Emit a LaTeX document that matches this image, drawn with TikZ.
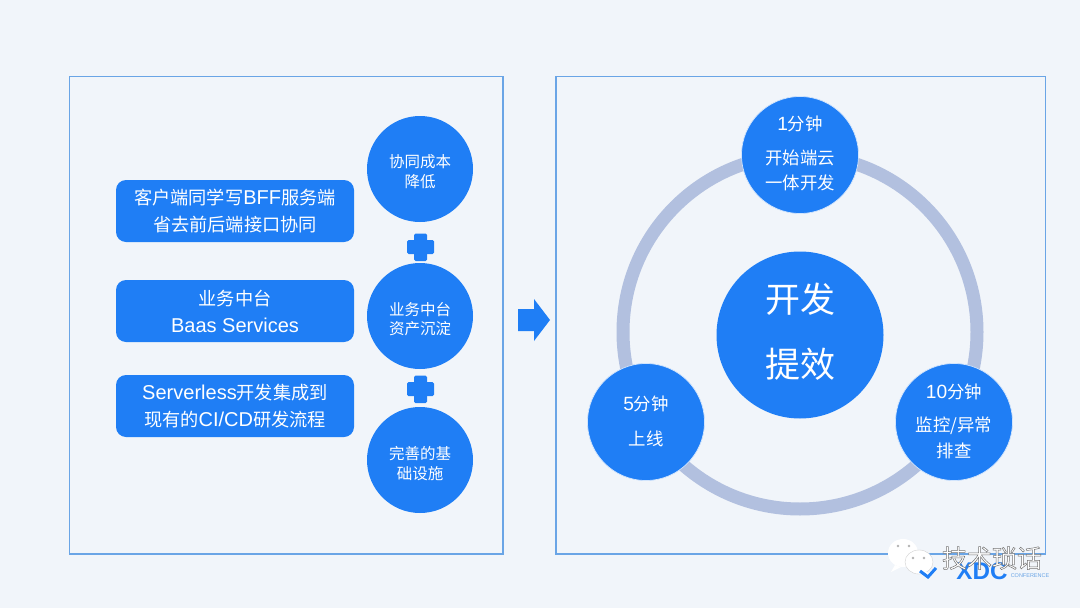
\documentclass[tikz,border=0pt]{standalone}
\usepackage{fontspec}
\setmainfont{Noto Sans CJK SC}
\newfontfamily\lat[Scale=1.1]{Liberation Sans}
\usetikzlibrary{calc}
\definecolor{bgc}{HTML}{F1F5FA}
\definecolor{blu}{HTML}{1F7EF5}
\definecolor{fr}{HTML}{6AA5E6}
\definecolor{rng}{HTML}{B2C0DF}
\tikzset{x=1pt,y=-1pt,
 panel/.style={draw=fr,line width=1.1pt,fill=none},
 circ/.style={circle,fill=blu,minimum size=#1,inner sep=0pt},
 halo/.style={draw=white!80!blu,line width=.7pt},
 ctext/.style={text=white,inner sep=0pt,font=\fontsize{15.5}{20}\selectfont},
 rtext/.style={text=white,inner sep=0pt,font=\fontsize{17.4}{20}\selectfont},
 mtext/.style={text=white,inner sep=0pt,font=\fontsize{35}{40}\selectfont},
 pillbox/.style={rounded corners=10pt,fill=blu,text=white,minimum width=238,minimum height=62,inner sep=0pt,align=center,font=\fontsize{18.2}{27}\selectfont},
 plus/.style={blu,rounded corners=1.5pt}}
\begin{document}
\begin{tikzpicture}
\fill[bgc] (0,0) rectangle (1080,608);
\useasboundingbox (0,0) rectangle (1080,608);
\draw[panel] (69.5,76.5) rectangle (503,554);
\draw[panel] (556,76.5) rectangle (1045.5,554);
\node[pillbox] (p1) at (235,211) {客户端同学写{\lat BFF}服务端\\省去前后端接口协同};
\node[pillbox] (p2) at (235,311) {业务中台\\{\lat Baas Services}};
\node[pillbox] (p3) at (235,406) {{\lat Serverless}开发集成到\\现有的{\lat CI/CD}研发流程};
\node[circ=106] (c1) at (420,169) {};
\node[circ=106] (c2) at (420,316) {};
\node[circ=106] (c3) at (420,460) {};
\node[ctext] (c1a) at (420,162) {协同成本};
\node[ctext] (c1b) at (420,182) {降低};
\node[ctext] (c2a) at (420,310) {业务中台};
\node[ctext] (c2b) at (420,329) {资产沉淀};
\node[ctext] (c3a) at (420,454) {完善的基};
\node[ctext] (c3b) at (420,474) {础设施};
\fill[plus] (407,240) rectangle (434,254);
\fill[plus] (414,233.5) rectangle (427,261);
\fill[plus] (407,382) rectangle (434,396);
\fill[plus] (414,375.5) rectangle (427,403);
\fill[blu] (518,309) -- (534,309) -- (534,299) -- (550,320) -- (534,341) -- (534,331) -- (518,331) -- cycle;
\draw[rng,line width=13pt] (800,332) circle (177);
\node[circ=167] (m) at (800,335) {};
\node[mtext] (m1) at (800,299) {开发};
\node[mtext] (m2) at (800,364) {提效};
\node[circ=117,halo] (t) at (800,155) {};
\node[circ=117,halo] (l) at (646,422) {};
\node[circ=117,halo] (r) at (954,422) {};
\node[rtext] (t1) at (800,124) {{\lat 1}分钟};
\node[rtext] (t2) at (800,158) {开始端云};
\node[rtext] (t3) at (800,183) {一体开发};
\node[rtext] (l1) at (646,404) {{\lat 5}分钟};
\node[rtext] (l2) at (646,439) {上线};
\node[rtext] (r1) at (954,392) {{\lat 10}分钟};
\node[rtext] (r2) at (954,426) {监控/异常};
\node[rtext] (r3) at (954,451) {排查};
% watermark
\fill[white] (903,553) ellipse (15 and 14);
\fill[white] (895,565) -- (891,572) -- (901,567) -- cycle;
\fill[white,draw=gray!35,line width=.4pt] (919,562) ellipse (14 and 12);
\fill[white] (926,571) -- (931,577) -- (919,573) -- cycle;
\fill[gray!60] (898,546) circle (1.3) (909,546) circle (1.3) (913,558) circle (1.3) (924,558) circle (1.3);
\node[text=blu,font=\bfseries\fontsize{22}{22}\selectfont\lat,inner sep=0pt] (x) at (982,571) {XDC};
\draw[blu,line width=3pt] (920,571) -- (928,577) -- (936,568);
\node[text=fr,font=\fontsize{5}{6}\selectfont\lat,inner sep=0pt] (k) at (1030,576) {CONFERENCE};
\node[text=white,font=\fontsize{25}{25}\selectfont,inner sep=0pt] (w) at (992,558) {\special{pdf:code 2 Tr 0.5 w 0.45 G}技术琐话\special{pdf:code 0 Tr}};
\end{tikzpicture}
\end{document}
